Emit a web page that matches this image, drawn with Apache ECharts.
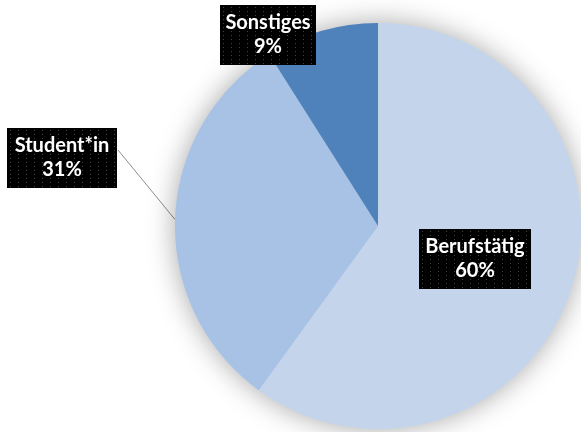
<!DOCTYPE html>
<html>
<head>
<meta charset="utf-8">
<script src="https://cdn.jsdelivr.net/npm/echarts@6/dist/echarts.min.js"></script>
<style>
  html, body { margin: 0; padding: 0; background: #fff; }
  #chart { width: 581px; height: 432px; }
</style>
</head>
<body>
<div id="chart"></div>
<script>
// Share of respondents by occupation
const categories = ['Berufstätig', 'Student*in', 'Sonstiges'];
const shares = [60, 31, 9];
const sliceColors = ['#c4d5eb', '#a7c2e5', '#4f82bb'];

// centre of each label box and its text width
const labelSpots = [[475, 259], [62, 158], [268, 35]];
const labelWidths = [100, 98, 84];

const PAD = [7, 6, 5, 6];
const LINE_H = 24;
const boxW = i => labelWidths[i] + PAD[1] + PAD[3];
const BOX_H = LINE_H * 2 + PAD[0] + PAD[2];

// black label backdrop with a faint dotted grid
function dottedBackdrop(w, h) {
  const c = document.createElement('canvas');
  c.width = w; c.height = h;
  const ctx = c.getContext('2d');
  ctx.fillStyle = '#000';
  ctx.fillRect(0, 0, w, h);
  ctx.fillStyle = 'rgba(120,120,120,0.55)';
  for (let x = 3; x < w; x += 8) {
    for (let y = 2; y < h; y += 4) {
      ctx.fillRect(x, y, 1, 1);
    }
  }
  return c;
}

const chart = echarts.init(document.getElementById('chart'), null, { renderer: 'canvas' });

const pieData = categories.map((name, i) => ({
  name: name,
  value: shares[i],
  itemStyle: { color: sliceColors[i] },
  label: { width: labelWidths[i], backgroundColor: { image: dottedBackdrop(boxW(i), BOX_H) } },
  labelLine: { show: i === 1 }
}));

chart.setOption({
  animation: false,
  series: [
    {
      // soft drop shadow behind the whole pie
      type: 'pie',
      silent: true,
      center: [378, 226],
      radius: 203,
      label: { show: false },
      labelLine: { show: false },
      data: [{ value: 1, itemStyle: { color: sliceColors[0], shadowBlur: 28, shadowColor: 'rgba(0,0,0,0.35)' } }]
    },
    {
      type: 'pie',
      center: [378, 226],
      radius: 203,
      startAngle: 90,
      clockwise: true,
      data: pieData,
      label: {
        show: true,
        position: 'outside',
        overflow: 'none',
        formatter: p => p.name + '\n' + Math.round(p.percent) + '%',
        color: '#fff',
        fontFamily: 'Lato',
        fontWeight: 'bold',
        fontSize: 20,
        lineHeight: LINE_H,
        align: 'center',
        padding: PAD
      },
      labelLine: {
        show: true,
        length: 20,
        length2: 20,
        lineStyle: { color: '#8c8c8c', width: 1 }
      },
      labelLayout: function (params) {
        const i = params.dataIndex;
        const spot = labelSpots[i];
        const out = {
          x: spot[0],
          y: spot[1],
          align: 'center',
          verticalAlign: 'middle'
        };
        if (params.labelLinePoints) {
          // straight leader from the slice edge to the box's upper right side
          const start = params.labelLinePoints[0];
          const end = [spot[0] + boxW(i) / 2 + 1, spot[1] - BOX_H / 2 + 22];
          out.labelLinePoints = [start, start, end];
        }
        return out;
      }
    }
  ]
});
</script>
</body>
</html>
